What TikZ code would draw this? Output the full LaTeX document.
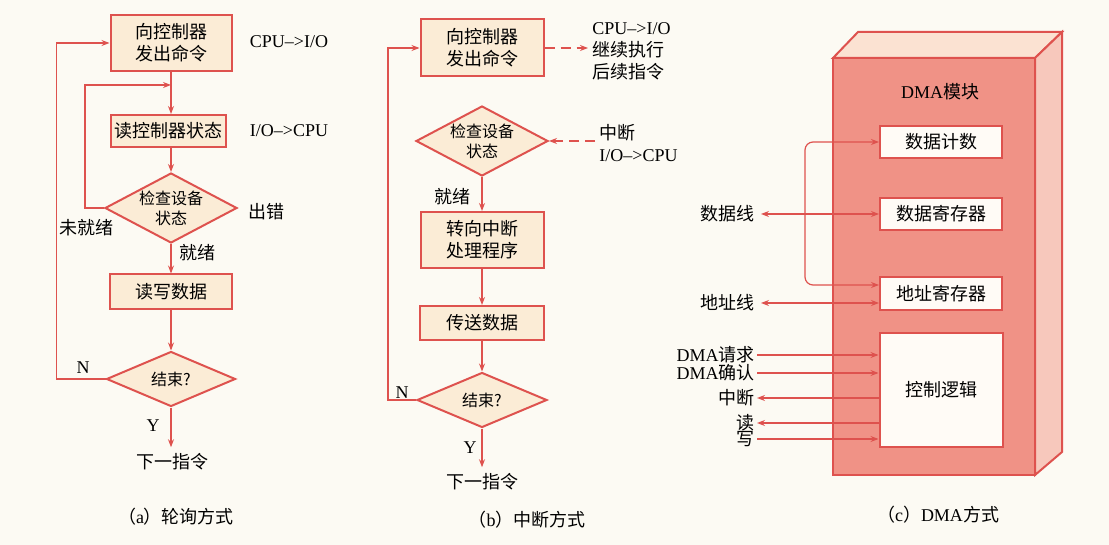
\documentclass[tikz,border=0pt]{standalone}
\usepackage{fontspec}
\setmainfont{Liberation Serif}
\newfontfamily\cjk{Noto Sans CJK SC}
\usepackage{tikz}
\usetikzlibrary{shapes.geometric,arrows.meta}
\definecolor{lred}{RGB}{222,82,78}
\definecolor{boxc}{RGB}{251,236,214}
\definecolor{frontc}{RGB}{240,146,134}
\definecolor{topc}{RGB}{251,226,210}
\definecolor{sidec}{RGB}{247,200,188}
\definecolor{regc}{RGB}{255,251,246}
\definecolor{bgc}{RGB}{252,250,243}
\newcommand\zh[1]{{\cjk #1}}
\tikzset{
  box/.style={draw=lred,line width=1pt,fill=boxc,inner sep=1pt,align=center,font=\cjk},
  dia/.style={diamond,draw=lred,line width=1pt,fill=boxc,inner sep=0pt,aspect=1.9,align=center,font=\cjk\fontsize{8}{10}\selectfont},
  reg/.style={draw=lred,line width=1pt,fill=regc,inner sep=1pt,font=\cjk},
  arr/.style={draw=lred,line width=0.6pt,-{Stealth[length=4pt,width=3pt]}},
  dsh/.style={arr,dash pattern=on 5pt off 3pt},
  lbl/.style={font=\cjk},
}
\begin{document}
\fontsize{9}{11}\selectfont
\begin{tikzpicture}[x=0.5pt,y=-0.5pt]
\fill[bgc] (0,0) rectangle (1109,545);
% (a) polling
\node[box,minimum width=60.5pt,minimum height=28pt] (a1) at (171,43) {向控制器\\发出命令};
\node[box,minimum width=57.5pt,minimum height=16pt] (a2) at (168,131) {读控制器状态};
\node[dia,minimum width=66pt,minimum height=35pt] (a3) at (171,208) {检查设备\\状态};
\node[box,minimum width=61pt,minimum height=17.5pt] (a4) at (171,292) {读写数据};
\node[dia,minimum width=64.5pt,minimum height=27.5pt] (a5) at (171,379) {结束?};
\node[lbl] (a6) at (172,462) {下一指令};
\node (a1l) at (289,42) {CPU-->I/O};
\node (a2l) at (289,131) {I/O-->CPU};
\node[lbl] (a3e) at (266,212) {出错};
\node[lbl] (a3n) at (87,228) {未就绪};
\node[lbl] (a3y) at (197,253) {就绪};
\node (a5n) at (83,368) {N};
\node (a5y) at (153,426) {Y};
\node (capa) at (176,517) {\zh{（}a\zh{）轮询方式}};
\coordinate (la) at (85,85);
\draw[arr] (a1) -- (a1 |- a2.north);
\draw[arr] (a3 |- a2.south) -- (a3);
\draw[arr] (a3) -- (a4);
\draw[arr] (a4) -- (a5);
\draw[arr] (a5) -- (a5 |- a6.north);
\draw[arr] (a3.west) -| (la) -- (a1.south |- la);
\draw[arr] (a5.west) -- ++(-49,0) |- (a1.west);
% (b) interrupt
\node[box,minimum width=61.5pt,minimum height=28.5pt] (b1) at (482,48) {向控制器\\发出命令};
\node[dia,minimum width=66pt,minimum height=35pt] (b2) at (482,141) {检查设备\\状态};
\node[box,minimum width=61.5pt,minimum height=28pt] (b3) at (482,240) {转向中断\\处理程序};
\node[box,minimum width=62pt,minimum height=17pt] (b4) at (482,323) {传送数据};
\node[dia,minimum width=65pt,minimum height=27.5pt] (b5) at (482,400) {结束?};
\node[lbl] (b6) at (482,482) {下一指令};
\node[anchor=west,align=left,inner sep=2pt] (b1l) at (588,51) {CPU-->I/O\\\zh{继续执行}\\\zh{后续指令}};
\node[anchor=west,align=left,inner sep=2pt] (b2l) at (595,143) {\zh{中断}\\I/O-->CPU};
\node[lbl] (b2y) at (452,197) {就绪};
\node (b5n) at (402,393) {N};
\node (b5y) at (470,448) {Y};
\node (capb) at (527,520) {\zh{（}b\zh{）中断方式}};
\draw[dsh] (b1.east) -- (b1.east -| b1l.west);
\draw[dsh] (b2.east -| b2l.west) -- (b2.east);
\draw[arr] (b2) -- (b3);
\draw[arr] (b3) -- (b4);
\draw[arr] (b4) -- (b5);
\draw[arr] (b5) -- (b6);
\draw[arr] (b5.west) -- ++(-28,0) |- (b1.west);
% (c) DMA
\filldraw[draw=lred,line width=1pt,fill=topc] (833,58) -- (858,32) -- (1062,32) -- (1035,58) -- cycle;
\filldraw[draw=lred,line width=1pt,fill=sidec] (1035,58) -- (1062,32) -- (1062,452) -- (1035,475) -- cycle;
\filldraw[draw=lred,line width=1pt,fill=frontc] (833,58) rectangle (1035,475);
\node (cm) at (940,92) {DMA\zh{模块}};
\node[reg,minimum width=61pt,minimum height=16pt] (c1) at (941,142) {数据计数};
\node[reg,minimum width=61pt,minimum height=16pt] (c2) at (941,214) {数据寄存器};
\node[reg,minimum width=61pt,minimum height=16.5pt] (c3) at (941,294) {地址寄存器};
\node[reg,minimum width=61.5pt,minimum height=56.5pt] (c4) at (941,390) {控制逻辑};
\node[lbl,anchor=east] (l1) at (761,214) {数据线};
\node[lbl,anchor=east] (l2) at (761,303) {地址线};
\node[anchor=east,inner sep=1pt] (l3) at (757,355) {DMA\zh{请求}};
\node[anchor=east,inner sep=1pt] (l4) at (757,373) {DMA\zh{确认}};
\node[lbl,anchor=east,inner sep=1pt] (l5) at (757,398) {中断};
\node[lbl,anchor=east,inner sep=1pt] (l6) at (757,423) {读};
\node[lbl,anchor=east,inner sep=1pt] (l7) at (757,439) {写};
\node (capc) at (938,515) {\zh{（}c\zh{）}DMA\zh{方式}};
\coordinate (bj) at (805,214);
\draw[arr] (bj) -- (l1.east);
\draw[arr,rounded corners=4pt] (bj) |- (c1.west);
\draw[arr] (bj) -- (c2.west);
\draw[arr,rounded corners=4pt] (bj) |- ([yshift=4.5pt]c3.west);
\draw[arr,{Stealth[length=4pt,width=3pt]}-{Stealth[length=4pt,width=3pt]}] (l2.east) -- ([yshift=-4.5pt]c3.west);
\draw[arr] (l3.east) -- (l3.east -| c4.west);
\draw[arr] (l4.east) -- (l4.east -| c4.west);
\draw[arr] (l5.east -| c4.west) -- (l5.east);
\draw[arr] (l6.east -| c4.west) -- (l6.east);
\draw[arr] (l7.east) -- (l7.east -| c4.west);
\end{tikzpicture}
\end{document}
